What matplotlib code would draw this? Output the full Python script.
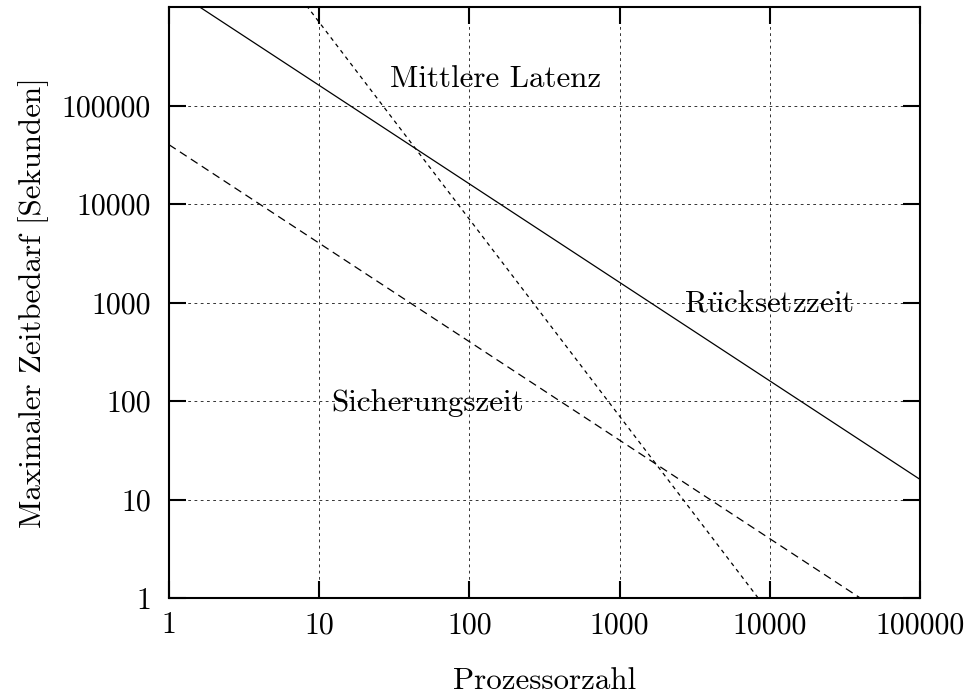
import matplotlib
matplotlib.use("Agg")
import matplotlib.pyplot as plt

# Processor counts and the three timing curves (seconds)
procs = [1, 100000]
reset_time = [1.6e6, 16]       # Rücksetzzeit
backup_time = [4e4, 0.4]       # Sicherungszeit
latency = [7e7, 7e-3]          # Mittlere Latenz

xticks = [1, 10, 100, 1000, 10000, 100000]
yticks = [1, 10, 100, 1000, 10000, 100000]
tick_labels = ["1", "10", "100", "1000", "10000", "100000"]

plt.rcParams["font.family"] = "serif"
plt.rcParams["font.serif"] = ["cmr10"]
plt.rcParams["mathtext.fontset"] = "cm"
plt.rcParams["axes.unicode_minus"] = False
plt.rcParams["lines.scale_dashes"] = False

fig = plt.figure(figsize=(9.67, 6.94), dpi=100)
ax = fig.add_axes([169/967, 1 - 598/694, (920 - 169)/967, (598 - 7)/694])

ax.plot(procs, reset_time, color="black", lw=0.9)
ax.plot(procs, backup_time, color="black", lw=0.9, dashes=(5.8, 3.6))
ax.plot(procs, latency, color="black", lw=0.9, dashes=(2.9, 2.9))

ax.set_xscale("log")
ax.set_yscale("log")
ax.set_xlim(1, 100000)
ax.set_ylim(1, 1e6)
ax.set_xticks(xticks)
ax.set_xticklabels(tick_labels)
ax.set_yticks(yticks)
ax.set_yticklabels(tick_labels)
ax.minorticks_off()

ax.tick_params(direction="in", length=12, width=1.5, top=True, right=True,
               labelsize=21.5)
ax.tick_params(axis="x", pad=10)
ax.tick_params(axis="y", pad=13)
for s in ax.spines.values():
    s.set_linewidth(1.5)

ax.grid(True, color="0.2", lw=0.7, dashes=(2, 2.5))

fs = 22.3
ax.text(29.5, 1.54e5, "Mittlere Latenz", fontsize=fs, va="baseline")
ax.text(2700, 801, r"$\mathrm{R\ddot{u}cksetzzeit}$", fontsize=fs, va="baseline")
ax.text(12, 79, "Sicherungszeit", fontsize=fs, va="baseline")

fig.text(545/967, 1 - 689/694, "Prozessorzahl", fontsize=fs,
         ha="center", va="baseline")
fig.text(41/967, 1 - 303/694, "Maximaler Zeitbedarf [Sekunden]", fontsize=fs,
         ha="center", va="baseline", rotation=90, rotation_mode="anchor")

fig.savefig("out.png", dpi=100)
